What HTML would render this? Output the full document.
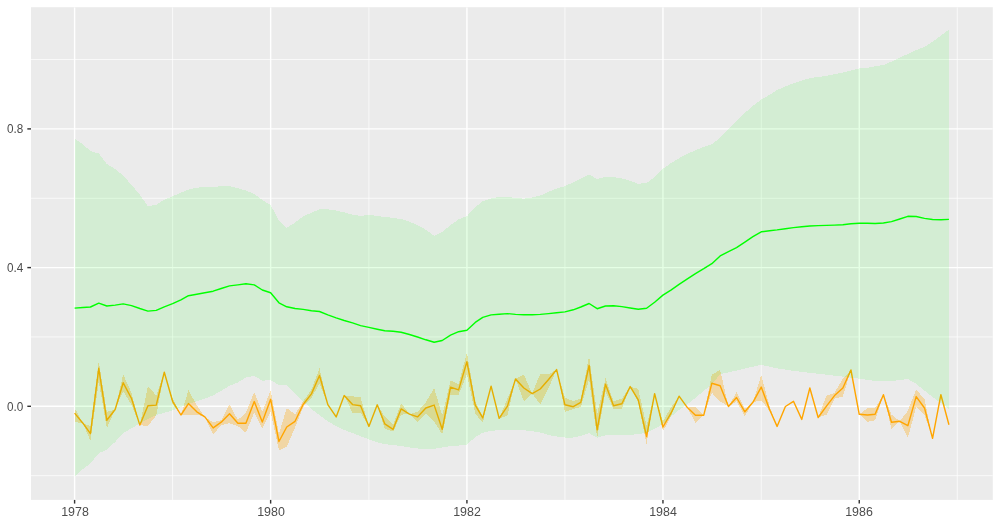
<!DOCTYPE html>
<html><head><meta charset="utf-8"><title>plot</title>
<style>
html,body{margin:0;padding:0;background:#fff;}
body{width:1000px;height:526px;position:relative;overflow:hidden;font-family:"Liberation Sans",sans-serif;}
.yl{position:absolute;left:0;width:23.4px;text-align:right;font-size:11.73px;line-height:14px;height:14px;color:#4D4D4D;will-change:transform;transform:scale(1,1.1);transform-origin:100% 50%;}
.xl{position:absolute;top:505.3px;width:60px;text-align:center;font-size:11.73px;line-height:14px;height:14px;color:#4D4D4D;will-change:transform;transform:scale(1.06,1.08);transform-origin:50% 50%;}
</style></head><body>
<svg width="1000" height="526" viewBox="0 0 1000 526" style="position:absolute;left:0;top:0">
<rect x="0" y="0" width="1000" height="526" fill="#ffffff"/>
<rect x="31.0" y="7.2" width="961.80" height="492.70" fill="#EBEBEB"/>
<clipPath id="c"><rect x="31.0" y="7.2" width="961.80" height="492.70"/></clipPath>
<g clip-path="url(#c)">
<line x1="31.0" x2="992.8" y1="475.65" y2="475.65" stroke="#fff" stroke-width="0.71"/>
<line x1="31.0" x2="992.8" y1="336.95" y2="336.95" stroke="#fff" stroke-width="0.71"/>
<line x1="31.0" x2="992.8" y1="198.25" y2="198.25" stroke="#fff" stroke-width="0.71"/>
<line x1="31.0" x2="992.8" y1="59.55" y2="59.55" stroke="#fff" stroke-width="0.71"/>
<line x1="172.61" x2="172.61" y1="7.2" y2="499.9" stroke="#fff" stroke-width="0.71"/>
<line x1="368.91" x2="368.91" y1="7.2" y2="499.9" stroke="#fff" stroke-width="0.71"/>
<line x1="564.94" x2="564.94" y1="7.2" y2="499.9" stroke="#fff" stroke-width="0.71"/>
<line x1="761.24" x2="761.24" y1="7.2" y2="499.9" stroke="#fff" stroke-width="0.71"/>
<line x1="957.26" x2="957.26" y1="7.2" y2="499.9" stroke="#fff" stroke-width="0.71"/>
<line x1="31.0" x2="992.8" y1="406.30" y2="406.30" stroke="#fff" stroke-width="1.42"/>
<line x1="31.0" x2="992.8" y1="267.60" y2="267.60" stroke="#fff" stroke-width="1.42"/>
<line x1="31.0" x2="992.8" y1="128.90" y2="128.90" stroke="#fff" stroke-width="1.42"/>
<line x1="74.60" x2="74.60" y1="7.2" y2="499.9" stroke="#fff" stroke-width="1.42"/>
<line x1="270.63" x2="270.63" y1="7.2" y2="499.9" stroke="#fff" stroke-width="1.42"/>
<line x1="466.92" x2="466.92" y1="7.2" y2="499.9" stroke="#fff" stroke-width="1.42"/>
<line x1="662.95" x2="662.95" y1="7.2" y2="499.9" stroke="#fff" stroke-width="1.42"/>
<line x1="859.25" x2="859.25" y1="7.2" y2="499.9" stroke="#fff" stroke-width="1.42"/>
<polygon points="74.60,408.00 82.92,423.20 90.44,426.00 98.77,361.40 106.82,411.80 115.15,409.50 123.20,374.40 131.53,392.80 139.85,425.10 147.91,386.10 156.23,395.60 164.29,372.20 172.61,398.50 180.94,415.00 188.46,390.30 196.78,405.10 204.84,416.90 213.16,422.20 221.22,420.30 229.54,404.50 237.87,419.90 245.92,412.90 254.25,392.15 262.30,411.80 270.63,390.40 278.95,434.00 286.74,408.00 295.06,414.30 303.12,401.50 311.45,389.50 319.50,368.40 327.83,404.60 336.15,416.90 344.21,395.60 352.53,396.20 360.59,397.50 368.91,426.40 377.24,404.80 384.75,416.50 393.08,425.10 401.13,403.20 409.46,414.10 417.52,411.80 425.84,402.30 434.16,388.00 442.22,415.60 450.54,380.60 458.60,384.20 466.92,352.40 475.25,401.30 482.77,416.50 491.09,386.10 499.15,418.40 507.47,398.50 515.53,378.90 523.85,374.70 532.18,393.70 540.23,373.80 548.56,374.30 556.61,369.60 564.94,397.50 573.26,401.30 580.78,398.50 589.11,356.40 597.16,414.00 605.49,378.40 613.54,401.30 621.87,398.50 630.19,386.60 638.25,389.00 646.57,425.70 654.63,393.70 662.95,421.30 671.28,407.00 679.07,396.20 687.39,407.60 695.45,407.00 703.77,415.20 711.83,374.70 720.15,370.00 728.48,406.50 736.53,392.20 744.86,408.90 752.91,402.30 761.24,375.10 769.56,406.10 777.08,426.40 785.40,406.50 793.46,401.30 801.78,419.40 809.84,388.00 818.16,417.50 826.49,395.60 834.55,392.80 842.87,378.50 850.93,370.00 859.25,414.30 867.57,408.00 875.09,408.00 883.42,394.70 891.47,414.60 899.80,421.30 907.85,410.80 916.18,389.30 924.50,399.40 932.56,438.40 940.88,394.70 948.94,424.70 948.94,424.70 940.88,394.70 932.56,438.40 924.50,414.60 916.18,407.00 907.85,437.80 899.80,421.30 891.47,428.90 883.42,394.70 875.09,420.30 867.57,421.90 859.25,414.30 850.93,370.00 842.87,396.60 834.55,398.50 826.49,414.60 818.16,417.50 809.84,388.00 801.78,419.40 793.46,401.30 785.40,406.50 777.08,426.40 769.56,410.80 761.24,400.40 752.91,402.30 744.86,416.20 736.53,401.30 728.48,406.50 720.15,401.30 711.83,392.80 703.77,415.20 695.45,422.80 687.39,407.60 679.07,396.20 671.28,415.60 662.95,431.40 654.63,393.70 646.57,444.30 638.25,402.30 630.19,386.60 621.87,408.90 613.54,408.90 605.49,391.50 597.16,438.00 589.11,379.50 580.78,407.00 573.26,408.90 564.94,411.80 556.61,369.60 548.56,388.00 540.23,404.20 532.18,393.70 523.85,401.30 515.53,378.90 507.47,415.60 499.15,418.40 491.09,386.10 482.77,422.80 475.25,413.70 466.92,374.40 458.60,394.70 450.54,394.70 442.22,434.50 434.16,421.30 425.84,413.70 417.52,422.20 409.46,414.10 401.13,414.60 393.08,431.70 384.75,428.90 377.24,404.80 368.91,426.40 360.59,412.70 352.53,412.70 344.21,395.60 336.15,416.90 327.83,404.60 319.50,383.50 311.45,398.00 303.12,407.00 295.06,427.60 286.74,446.60 278.95,450.40 270.63,411.80 262.30,428.80 254.25,412.70 245.92,432.70 237.87,426.00 229.54,423.20 221.22,425.10 213.16,434.60 204.84,416.90 196.78,414.60 188.46,414.60 180.94,415.00 172.61,404.20 164.29,372.20 156.23,415.60 147.91,426.00 139.85,425.10 131.53,405.10 123.20,391.00 115.15,409.50 106.82,428.20 98.77,381.50 90.44,440.90 82.92,423.20 74.60,421.90" fill="#FFA500" fill-opacity="0.3" shape-rendering="crispEdges"/>
<polyline points="74.60,413.10 82.92,423.20 90.44,433.60 98.77,368.30 106.82,420.30 115.15,409.50 123.20,382.80 131.53,398.50 139.85,425.10 147.91,405.70 156.23,405.10 164.29,372.20 172.61,401.30 180.94,415.00 188.46,403.60 196.78,411.80 204.84,416.90 213.16,427.90 221.22,422.20 229.54,413.70 237.87,423.20 245.92,423.20 254.25,401.55 262.30,422.10 270.63,399.30 278.95,441.50 286.74,427.00 295.06,421.30 303.12,404.50 311.45,393.90 319.50,375.50 327.83,404.60 336.15,416.90 344.21,395.60 352.53,404.60 360.59,405.70 368.91,426.40 377.24,404.80 384.75,423.80 393.08,429.30 401.13,408.90 409.46,414.10 417.52,416.90 425.84,408.00 434.16,405.10 442.22,429.30 450.54,387.10 458.60,389.90 466.92,361.80 475.25,405.10 482.77,417.90 491.09,386.10 499.15,418.40 507.47,406.10 515.53,378.90 523.85,388.00 532.18,393.70 540.23,389.00 548.56,379.50 556.61,369.60 564.94,404.80 573.26,406.70 580.78,402.30 589.11,365.50 597.16,429.75 605.49,384.25 613.54,405.70 621.87,403.80 630.19,386.60 638.25,399.80 646.57,436.50 654.63,393.70 662.95,427.00 671.28,412.70 679.07,396.20 687.39,407.60 695.45,415.20 703.77,415.20 711.83,383.30 720.15,385.70 728.48,406.50 736.53,397.50 744.86,411.80 752.91,402.30 761.24,387.10 769.56,409.50 777.08,426.40 785.40,406.50 793.46,401.30 801.78,419.40 809.84,388.00 818.16,417.50 826.49,406.10 834.55,395.60 842.87,388.00 850.93,370.00 859.25,414.30 867.57,415.00 875.09,414.30 883.42,394.70 891.47,422.20 899.80,421.30 907.85,425.70 916.18,396.60 924.50,408.00 932.56,438.40 940.88,394.70 948.94,424.70" fill="none" stroke="#FFA500" stroke-width="1.42" stroke-linejoin="round" stroke-linecap="butt"/>
<polygon points="74.60,138.70 82.92,144.40 90.44,151.00 98.77,153.50 106.82,164.00 115.15,169.10 123.20,175.50 131.53,184.90 139.85,194.80 147.91,206.20 156.23,204.80 164.29,199.70 172.61,196.30 180.94,192.50 188.46,189.60 196.78,187.70 204.84,187.00 213.16,187.00 221.22,186.20 229.54,186.20 237.87,188.10 245.92,190.60 254.25,194.00 262.30,200.00 270.63,205.10 278.95,220.30 286.74,227.90 295.06,222.60 303.12,216.50 311.45,212.70 319.50,209.30 327.83,209.30 336.15,210.50 344.21,212.40 352.53,214.60 360.59,216.00 368.91,214.80 377.24,216.00 384.75,216.90 393.08,217.90 401.13,219.00 409.46,221.70 417.52,225.10 425.84,229.80 434.16,235.90 442.22,232.00 450.54,225.10 458.60,219.40 466.92,216.20 475.25,207.00 482.77,201.30 491.09,198.50 499.15,197.00 507.47,197.10 515.53,197.90 523.85,198.70 532.18,197.50 540.23,195.60 548.56,191.80 556.61,188.60 564.94,186.10 573.26,182.30 580.78,178.50 589.11,174.70 597.16,178.90 605.49,177.00 613.54,177.20 621.87,178.50 630.19,180.70 638.25,183.90 646.57,182.90 654.63,177.20 662.95,168.70 671.28,162.90 679.07,158.20 687.39,153.80 695.45,150.20 703.77,146.80 711.83,144.30 720.15,137.90 728.48,128.80 736.53,121.10 744.86,113.00 752.91,105.70 761.24,99.60 769.56,94.90 777.08,90.10 785.40,86.30 793.46,83.40 801.78,80.60 809.84,78.10 818.16,77.00 826.49,75.80 834.55,74.30 842.87,72.60 850.93,70.50 859.25,68.40 867.57,67.70 875.09,66.40 883.42,65.00 891.47,61.60 899.80,57.70 907.85,53.90 916.18,50.20 924.50,46.90 932.56,41.80 940.88,35.50 948.94,29.60 948.94,409.00 940.88,402.90 932.56,397.00 924.50,390.70 916.18,383.80 907.85,379.00 899.80,380.00 891.47,381.00 883.42,381.50 875.09,380.80 867.57,380.00 859.25,378.60 850.93,377.60 842.87,376.60 834.55,375.70 826.49,374.70 818.16,373.80 809.84,372.80 801.78,371.90 793.46,370.90 785.40,369.60 777.08,368.40 769.56,366.70 761.24,364.80 752.91,366.70 744.86,368.60 736.53,370.50 728.48,372.40 720.15,374.10 711.83,384.20 703.77,390.90 695.45,397.90 687.39,404.20 679.07,409.90 671.28,416.50 662.95,424.00 654.63,428.90 646.57,432.50 638.25,434.25 630.19,434.70 621.87,434.70 613.54,434.70 605.49,435.20 597.16,437.85 589.11,433.10 580.78,435.90 573.26,437.50 564.94,437.50 556.61,436.50 548.56,435.00 540.23,432.50 532.18,431.20 523.85,430.20 515.53,429.90 507.47,429.90 499.15,430.20 491.09,430.80 482.77,432.70 475.25,437.10 466.92,444.60 458.60,445.50 450.54,446.00 442.22,447.50 434.16,448.90 425.84,449.30 417.52,448.50 409.46,447.40 401.13,446.00 393.08,445.10 384.75,444.10 377.24,442.20 368.91,439.40 360.59,436.20 352.53,433.10 344.21,429.90 336.15,426.10 327.83,421.30 319.50,415.20 311.45,409.00 303.12,401.40 295.06,393.20 286.74,385.30 278.95,385.10 270.63,380.00 262.30,380.70 254.25,375.90 245.92,377.50 237.87,382.50 229.54,385.70 221.22,390.70 213.16,395.50 204.84,398.60 196.78,401.40 188.46,403.80 180.94,407.20 172.61,410.40 164.29,412.70 156.23,415.20 147.91,419.00 139.85,423.50 131.53,428.20 123.20,433.20 115.15,442.00 106.82,449.50 98.77,453.30 90.44,463.30 82.92,469.00 74.60,477.00" fill="#00FF00" fill-opacity="0.1" shape-rendering="crispEdges"/>
<polyline points="74.60,308.10 82.92,307.50 90.44,307.00 98.77,303.20 106.82,306.00 115.15,305.10 123.20,303.90 131.53,305.60 139.85,308.50 147.91,311.10 156.23,310.40 164.29,306.80 172.61,303.70 180.94,299.90 188.46,295.70 196.78,294.20 204.84,292.70 213.16,291.20 221.22,288.50 229.54,285.90 237.87,284.90 245.92,283.80 254.25,284.90 262.30,290.00 270.63,292.70 278.95,302.80 286.74,306.80 295.06,308.50 303.12,309.40 311.45,310.80 319.50,311.50 327.83,314.80 336.15,317.80 344.21,320.50 352.53,322.90 360.59,325.60 368.91,327.40 377.24,329.20 384.75,330.70 393.08,331.30 401.13,332.20 409.46,334.50 417.52,337.00 425.84,339.80 434.16,342.30 442.22,340.50 450.54,335.10 458.60,331.70 466.92,330.30 475.25,322.40 482.77,317.40 491.09,314.90 499.15,314.20 507.47,313.60 515.53,314.40 523.85,314.80 532.18,314.80 540.23,314.40 548.56,313.60 556.61,312.70 564.94,311.90 573.26,309.80 580.78,307.00 589.11,303.50 597.16,308.70 605.49,306.00 613.54,305.80 621.87,306.60 630.19,308.00 638.25,309.20 646.57,308.20 654.63,302.30 662.95,295.10 671.28,289.80 679.07,284.30 687.39,278.90 695.45,273.60 703.77,268.70 711.83,263.70 720.15,255.90 728.48,251.70 736.53,247.60 744.86,242.10 752.91,236.70 761.24,231.80 769.56,230.80 777.08,229.90 785.40,228.70 793.46,227.60 801.78,226.70 809.84,226.00 818.16,225.60 826.49,225.40 834.55,225.10 842.87,224.70 850.93,223.70 859.25,223.20 867.57,223.30 875.09,223.50 883.42,223.00 891.47,221.60 899.80,219.00 907.85,216.30 916.18,216.50 924.50,218.40 932.56,219.50 940.88,219.70 948.94,219.40" fill="none" stroke="#00FF00" stroke-width="1.42" stroke-linejoin="round" stroke-linecap="butt"/>
</g>
<line x1="27.33" x2="31.0" y1="406.30" y2="406.30" stroke="#333" stroke-width="1.42"/>
<line x1="27.33" x2="31.0" y1="267.60" y2="267.60" stroke="#333" stroke-width="1.42"/>
<line x1="27.33" x2="31.0" y1="128.90" y2="128.90" stroke="#333" stroke-width="1.42"/>
<line x1="74.60" x2="74.60" y1="499.9" y2="503.57" stroke="#333" stroke-width="1.42"/>
<line x1="270.63" x2="270.63" y1="499.9" y2="503.57" stroke="#333" stroke-width="1.42"/>
<line x1="466.92" x2="466.92" y1="499.9" y2="503.57" stroke="#333" stroke-width="1.42"/>
<line x1="662.95" x2="662.95" y1="499.9" y2="503.57" stroke="#333" stroke-width="1.42"/>
<line x1="859.25" x2="859.25" y1="499.9" y2="503.57" stroke="#333" stroke-width="1.42"/>
</svg>
<div class="yl" style="top:399.85px">0.0</div>
<div class="yl" style="top:261.15px">0.4</div>
<div class="yl" style="top:122.45px">0.8</div>
<div class="xl" style="left:44.75px">1978</div>
<div class="xl" style="left:240.78px">1980</div>
<div class="xl" style="left:437.07px">1982</div>
<div class="xl" style="left:633.10px">1984</div>
<div class="xl" style="left:829.40px">1986</div>
</body></html>
